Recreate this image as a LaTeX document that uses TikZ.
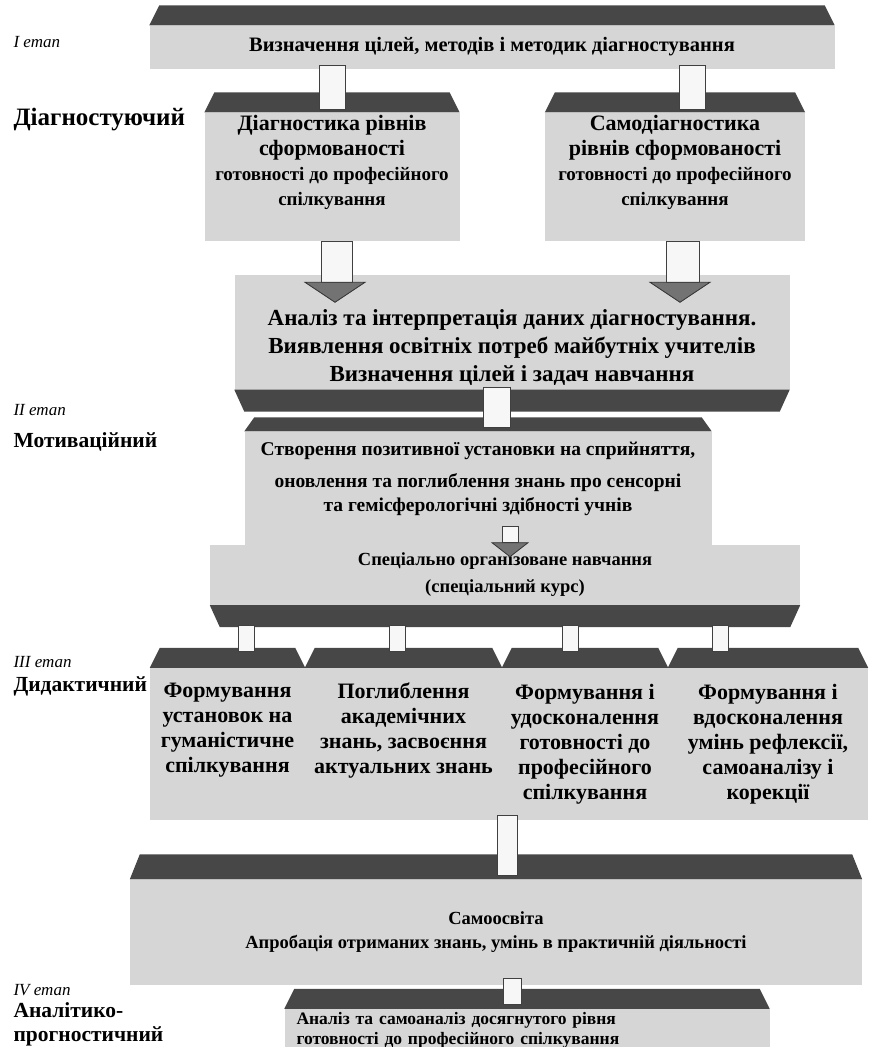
\documentclass[tikz,border=0pt]{standalone}
\usepackage{fontspec}
\setmainfont{Liberation Serif}
\usetikzlibrary{calc}
\newcommand{\sz}[2]{\fontsize{#1}{#2}\selectfont}

\begin{document}
\begin{tikzpicture}[x=1pt, y=-1pt,
    box/.style = {fill=gray!32, inner sep=3pt, align=center},
    bevel/.style = {fill=black!72},
    link/.style = {draw=black!75, fill=gray!6, line width=0.8pt},
    head/.style = {draw=black!80, fill=black!55, line width=0.8pt},
    stage/.style = {anchor=west, font=\itshape\sz{17}{20}},
    phase/.style = {anchor=west, align=left, font=\bfseries\sz{21.5}{24}}]
    \useasboundingbox (0,0) rectangle (872,1047);
    % boxes
    \node[box, font=\bfseries\sz{20.5}{24}, minimum width=685, minimum height=43] (goal) at (492,47) {Визначення цілей, методів і методик діагностування};
    \node[box, font=\bfseries\sz{22}{25}, minimum width=255, minimum height=125] (diag) at (332,177) {Діагностика рівнів\\ сформованості\\ \sz{19}{25}готовності до професійного\\ \sz{19}{25}спілкування\\ \strut};
    \node[box, font=\bfseries\sz{22}{25}, minimum width=260, minimum height=125] (selfdiag) at (675,177) {Самодіагностика\\ рівнів сформованості\\ \sz{19}{25}готовності до професійного\\ \sz{19}{25}спілкування\\ \strut};
    \node[box, font=\bfseries\sz{23}{28}, minimum width=555, minimum height=115] (ana) at (512,332) {\strut\\ Аналіз та інтерпретація даних діагностування.\\ Виявлення освітніх потреб майбутніх учителів\\ Визначення цілей і задач навчання};
    \node[box, font=\bfseries\sz{19.5}{24}, minimum width=467, minimum height=113] (motiv) at (478,488) {Створення позитивної установки на сприйняття,\\[8pt] оновлення та поглиблення знань про сенсорні\\ та гемісферологічні здібності учнів\\[-8pt] \strut};
    \node[box, font=\bfseries\sz{18.5}{27}, minimum width=590, minimum height=60] (spec) at (505,575) {Спеціально організоване навчання\\ (спеціальний курс)};
    \node[box, font=\bfseries\sz{22}{25}, minimum width=155, minimum height=152] (fa) at (227.5,744) {Формування\\ установок на\\ гуманістичне\\ спілкування\\ \strut};
    \node[box, font=\bfseries\sz{22}{25}, minimum width=197, minimum height=152] (fb) at (403.5,744) {Поглиблення\\ академічних\\ знань, засвоєння\\ актуальних знань\\ \strut};
    \node[box, font=\bfseries\sz{22}{25}, minimum width=166, minimum height=152] (fc) at (585,744) {Формування і\\ удосконалення\\ готовності до\\ професійного\\ спілкування};
    \node[box, font=\bfseries\sz{22}{25}, minimum width=200, minimum height=152] (fd) at (768,744) {Формування і\\ вдосконалення\\ умінь рефлексії,\\ самоаналізу і\\ корекції};
    \node[box, font=\bfseries\sz{18.5}{24}, minimum width=732, minimum height=105] (selfed) at (496,932) {Самоосвіта\\ Апробація отриманих знань, умінь в практичній діяльності};
    \node[box, font=\bfseries\sz{17.5}{20}, align=left, text width=461, inner xsep=12pt, minimum height=40] (final) at (527,1030) {Аналіз та самоаналіз досягнутого рівня\\ готовності до професійного спілкування};
    % bevels
    \foreach \n/\h in {goal/20, diag/20, selfdiag/20, motiv/14, fa/20, fb/20, fc/20, fd/20, selfed/25, final/20}
        \fill[bevel] (\n.north west) -- ($(\n.north west)+(10,-\h)$) -- ($(\n.north east)+(-10,-\h)$) -- (\n.north east) -- cycle;
    \foreach \n/\h in {ana/22, spec/22}
        \fill[bevel] (\n.south west) -- ($(\n.south west)+(10,\h)$) -- ($(\n.south east)+(-10,\h)$) -- (\n.south east) -- cycle;
    % connectors
    \draw[link] ($(goal.south -| diag.north)+(-13,-3)$) rectangle ($(diag.north)+(13,-3)$);
    \draw[link] ($(goal.south -| selfdiag.north)+(4,-3)$) rectangle ($(selfdiag.north)+(30,-3)$);
    \draw[link] ($(ana.south)+(-29,-2)$) rectangle ($(motiv.north -| ana.south)+(-2,-4)$);
    \draw[link] ($(spec.south -| fa.north)+(11,20)$) rectangle ($(fa.north)+(27,-16)$);
    \draw[link] ($(spec.south -| fb.north)+(-14,20)$) rectangle ($(fb.north)+(2,-16)$);
    \draw[link] ($(spec.south -| fc.north)+(-23,20)$) rectangle ($(fc.north)+(-7,-16)$);
    \draw[link] ($(spec.south -| fd.north)+(-56,20)$) rectangle ($(fd.north)+(-40,-16)$);
    \draw[link] ($(fc.south west)+(-4,-5)$) rectangle ($(selfed.north -| fc.south west)+(16,-4)$);
    \draw[link] ($(selfed.south)+(7,-6)$) rectangle ($(final.north)+(-6,-4)$);
    % block arrows
    \coordinate (ltip) at ($(diag.south |- ana.north)+(3,28)$);
    \coordinate (rtip) at ($(selfdiag.south |- ana.north)+(5,28)$);
    \coordinate (mtip) at ($(motiv.south -| spec.north)+(5,12)$);
    \draw[link] ($(diag.south)+(-11,0)$) rectangle ($(ltip)+(17,-20)$);
    \draw[link] ($(selfdiag.south)+(-9,0)$) rectangle ($(rtip)+(19,-20)$);
    \filldraw[head] ($(ltip)+(-30,-20)$) -- (ltip) -- ($(ltip)+(30,-20)$) -- cycle;
    \filldraw[head] ($(rtip)+(-30,-20)$) -- (rtip) -- ($(rtip)+(30,-20)$) -- cycle;
    \draw[link] ($(mtip)+(-8,-30)$) rectangle ($(mtip)+(8,-14)$);
    \filldraw[head] ($(mtip)+(-18,-14)$) -- (mtip) -- ($(mtip)+(18,-14)$) -- cycle;
    % stages
    \node[stage] (s1) at (10,42) {I етап};
    \node[phase, font=\bfseries\sz{25}{28}] (p1) at (10,120) {Діагностуючий};
    \node[stage] (s2) at (10,410) {II етап};
    \node[phase] (p2) at (10,442) {Мотиваційний};
    \node[stage] (s3) at (10,662) {III етап};
    \node[phase] (p3) at (10,686) {Дидактичний};
    \node[stage] (s4) at (10,990) {IV етап};
    \node[phase] (p4) at (10,1024) {Аналітико-\\прогностичний};
\end{tikzpicture}
\end{document}
